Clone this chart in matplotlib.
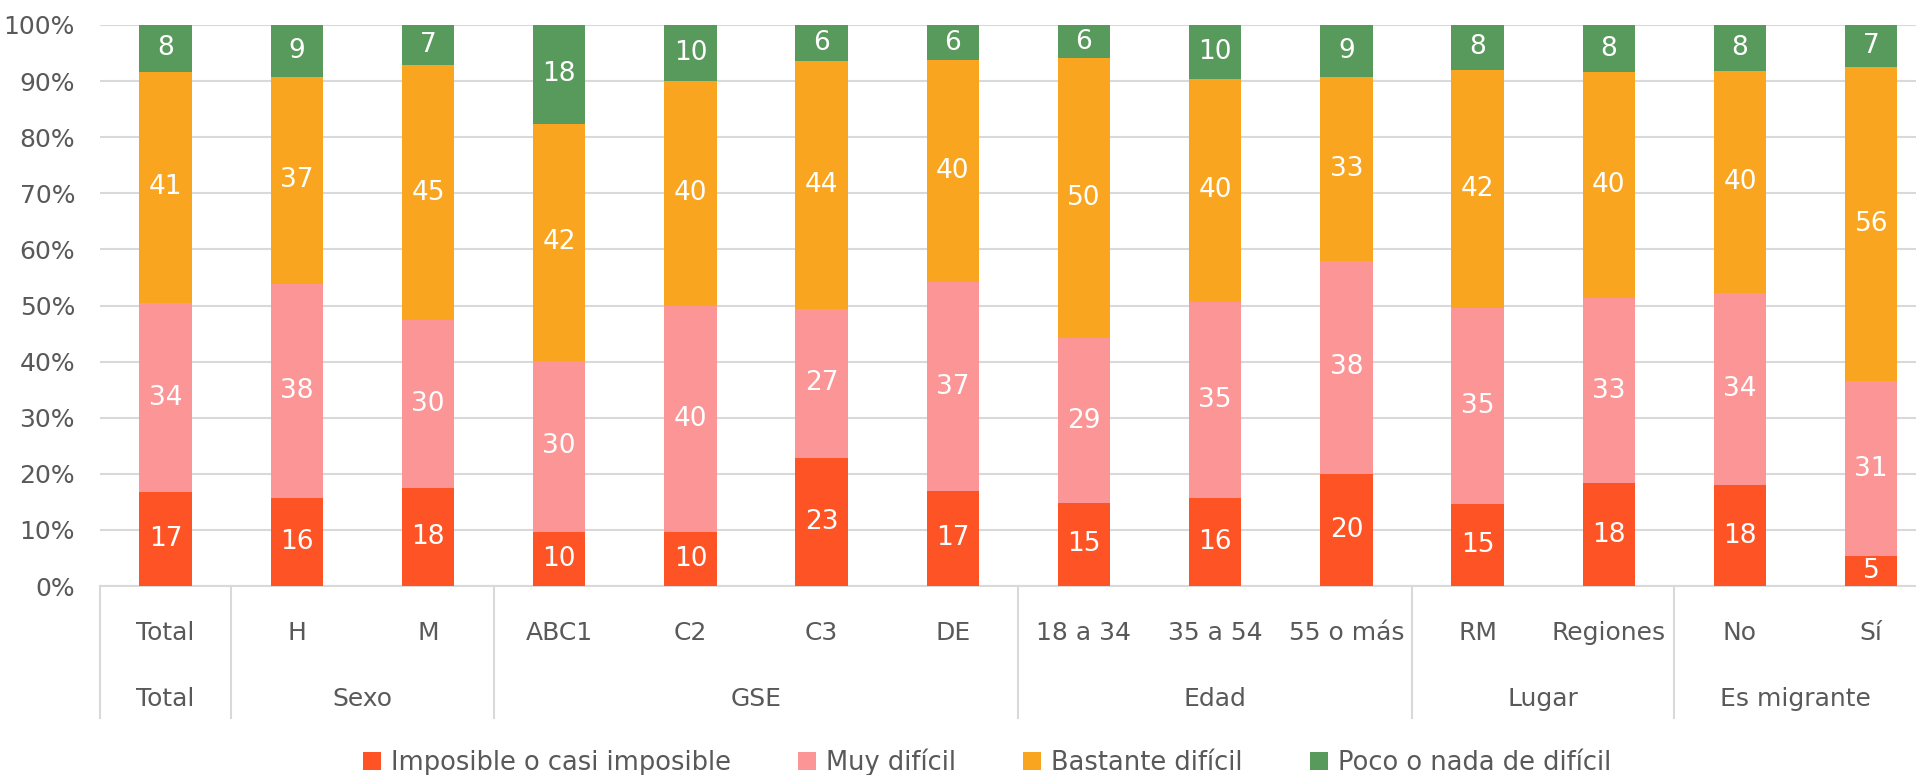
import numpy as np
import matplotlib
matplotlib.use("Agg")
import matplotlib.pyplot as plt
from matplotlib.patches import Patch
from matplotlib.lines import Line2D
from matplotlib.transforms import blended_transform_factory

plt.rcParams["font.family"] = ["DejaVu Sans"]

categories = ["Total", "H", "M", "ABC1", "C2", "C3", "DE",
              "18 a 34", "35 a 54", "55 o más", "RM", "Regiones", "No", "Sí"]
groups = ["Total", "Sexo", "GSE", "Edad", "Lugar", "Es migrante"]
group_sizes = [1, 2, 4, 3, 2, 2]

series_names = ["Imposible o casi imposible", "Muy difícil",
                "Bastante difícil", "Poco o nada de difícil"]
imposible = [16.7, 15.6, 17.5, 9.7, 9.6, 22.8, 17.0, 14.8, 15.6, 19.9, 14.6, 18.3, 18.0, 5.3]
muy_dificil = [33.8, 38.3, 29.9, 30.4, 40.4, 26.6, 37.1, 29.4, 35.1, 38.1, 35.0, 33.0, 34.2, 31.2]
bastante = [41.2, 36.9, 45.4, 42.3, 40.0, 44.2, 39.6, 49.9, 39.6, 32.8, 42.4, 40.3, 39.6, 56.1]
poco = [8.3, 9.2, 7.2, 17.6, 10.0, 6.4, 6.3, 5.9, 9.7, 9.2, 8.0, 8.4, 8.2, 7.4]

colors = ["#FE5425", "#FC9596", "#F9A51F", "#58995C"]
grey_text = "#595959"
grid_col = "#D9D9D9"
fs = 18

W, H = 1916, 775
fig = plt.figure(figsize=(W / 100, H / 100), dpi=100)
ax = fig.add_axes([100 / W, 1 - 586 / H, (W - 100) / W, (586 - 25) / H])

x = np.arange(len(categories))
bottom = np.zeros(len(categories))
for vals, col in zip([imposible, muy_dificil, bastante, poco], colors):
    vals = np.array(vals)
    bars = ax.bar(x, vals, 0.4, bottom=bottom, color=col, zorder=3)
    ax.bar_label(bars, labels=[f"{v:.0f}" for v in vals], label_type="center",
                 color="white", fontsize=fs + 1)
    bottom += vals

slot = 131.2
xmax = (W - 100) / slot - 0.5
ax.set_xlim(-0.5, xmax)
ax.set_ylim(0, 100)
ax.set_yticks(np.arange(0, 101, 10))
ax.set_yticklabels([f"{v}%" for v in range(0, 101, 10)])
ax.yaxis.grid(True, color=grid_col, lw=1.5, zorder=0)
ax.tick_params(axis="y", length=0, pad=18, labelsize=fs, labelcolor=grey_text)
for s in ["left", "right", "top"]:
    ax.spines[s].set_visible(False)
ax.spines["bottom"].set_color(grid_col)
ax.spines["bottom"].set_linewidth(1.5)

# two-level category axis
ax.set_xticks([])
tr = blended_transform_factory(ax.transData, fig.transFigure)
y1 = 1 - 640 / H
y2 = 1 - 706 / H
for i, c in enumerate(categories):
    ax.text(i, y1, c, transform=tr, ha="center", va="baseline",
            fontsize=fs, color=grey_text)

start = 0
edges = [-0.5]
for g, n in zip(groups, group_sizes):
    end = start + n
    right = min(end - 0.5, xmax)
    ax.text((start - 0.5 + right) / 2, y2, g, transform=tr, ha="center",
            va="baseline", fontsize=fs, color=grey_text)
    edges.append(end - 0.5)
    start = end
for e in edges:
    ax.add_line(Line2D([e, e], [1 - 586 / H, 1 - 718 / H], transform=tr,
                       color=grid_col, lw=1.5, clip_on=False))

handles = [Patch(facecolor=c) for c in colors]
fig.legend(handles, series_names, loc="center", bbox_to_anchor=(987 / W, 1 - 762 / H),
           ncol=4, frameon=False, fontsize=fs + 0.5, handlelength=0.7, handleheight=0.7,
           handletextpad=0.4, columnspacing=2.6, labelcolor=grey_text)

fig.savefig("out.png", dpi=100)
